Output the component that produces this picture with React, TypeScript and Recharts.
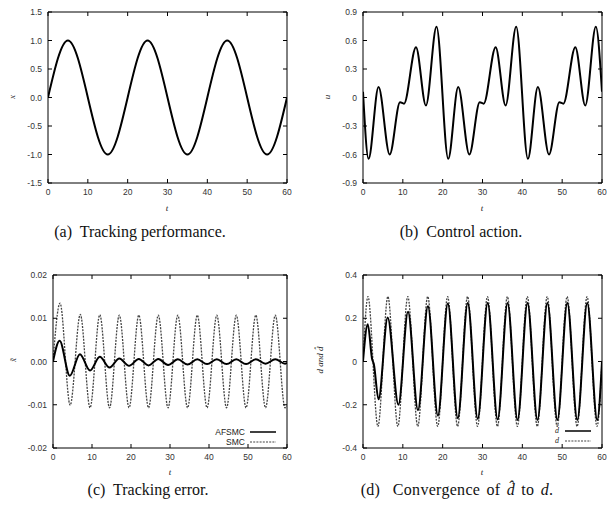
import React from 'react'
import { LineChart, Line, XAxis, YAxis } from 'recharts'

const SANS = '"Liberation Sans", Arial, Helvetica, sans-serif'
const SERIF = '"Liberation Serif", "Times New Roman", serif'

const T_TICKS = [0, 10, 20, 30, 40, 50, 60]

// (a) tracking performance, x(t) — extrema
const posT = [0, 5, 15, 25, 35, 45, 55, 60]
const posX = [0, 1, -1, 1, -1, 1, -1, 0]

// (b) control action u(t)
const ctrlT = [0, 1.4, 3.9, 6.7, 9.3, 10.3, 13.3, 15.8, 18.45, 21.4, 23.9, 26.7, 29.3, 30.3, 33.3, 35.8, 38.45, 41.4, 43.9, 46.7, 49.3, 50.3, 53.3, 55.8, 58.45, 60]
const ctrlU = [0.06, -0.645, 0.11, -0.6, -0.05, -0.065, 0.53, -0.085, 0.745, -0.645, 0.11, -0.6, -0.05, -0.065, 0.53, -0.085, 0.745, -0.645, 0.11, -0.6, -0.05, -0.065, 0.53, -0.085, 0.745, 0.06]

// (c) tracking error
const smcT = [0, 1.8, 4.4, 7.0, 9.5, 12.0, 14.5, 17.0, 19.5, 22.0, 24.5, 27.0, 29.5, 32.0, 34.5, 37.0, 39.5, 42.0, 44.5, 47.0, 49.5, 52.0, 54.5, 57.0, 59.5, 60]
const smcErr = [0, 0.0135, -0.0101, 0.0109, -0.0107, 0.0108, -0.0107, 0.0107, -0.0107, 0.0107, -0.0107, 0.0107, -0.0107, 0.0107, -0.0107, 0.0107, -0.0107, 0.0107, -0.0107, 0.0107, -0.0107, 0.0107, -0.0107, 0.0107, -0.0107, -0.0103]
const afT = [0, 1.7, 4.3, 6.9, 9.5, 12.0, 14.5, 17.0, 19.5, 22.0, 24.5, 27.0, 29.5, 32.0, 34.5, 37.0, 39.5, 42.0, 44.5, 47.0, 49.5, 52.0, 54.5, 57.0, 59.5, 60]
const afErr = [0, 0.0048, -0.0033, 0.0017, -0.0021, 0.0011, -0.0014, 0.0007, -0.001, 0.0006, -0.0009, 0.0006, -0.0008, 0.0005, -0.0007, 0.0005, -0.0006, 0.0005, -0.0006, 0.0005, -0.0006, 0.0005, -0.0005, 0.0005, -0.0005, -0.0003]

// (d) disturbance d and its estimate
const dT = [0, 1.25, 3.75, 6.25, 8.75, 11.25, 13.75, 16.25, 18.75, 21.25, 23.75, 26.25, 28.75, 31.25, 33.75, 36.25, 38.75, 41.25, 43.75, 46.25, 48.75, 51.25, 53.75, 56.25, 58.75, 60]
const dVal = [0, 0.3, -0.3, 0.3, -0.3, 0.3, -0.3, 0.3, -0.3, 0.3, -0.3, 0.3, -0.3, 0.3, -0.3, 0.3, -0.3, 0.3, -0.3, 0.3, -0.3, 0.3, -0.3, 0.3, -0.3, 0]
const dhT = [0, 1.2, 2.3, 2.7, 3.9, 6.2, 8.9, 11.3, 13.8, 16.3, 18.8, 21.3, 23.8, 26.3, 28.8, 31.3, 33.8, 36.3, 38.8, 41.3, 43.8, 46.3, 48.8, 51.3, 53.8, 56.3, 58.8, 60]
const dhVal = [0, 0.172, 0.01, -0.01, -0.175, 0.203, -0.2, 0.23, -0.225, 0.255, -0.25, 0.268, -0.262, 0.27, -0.265, 0.27, -0.268, 0.27, -0.27, 0.27, -0.27, 0.27, -0.27, 0.27, -0.27, 0.27, -0.27, 0]

type Curve = { t: number[]; v: number[]; dashed?: boolean }

const zip = (t: number[], v: number[]) => t.map((tt, i) => ({ t: tt, v: v[i] }))

const tickText = { fontSize: 8.5, fill: '#333', fontFamily: SANS }

function BottomTick(props: any) {
  const { x, y, payload } = props
  return (
    <g>
      <line x1={x} x2={x} y1={y} y2={y - 4} stroke="#000" />
      <text x={x} y={y + 12} textAnchor="middle" {...tickText}>{payload.value}</text>
    </g>
  )
}

function TopTick(props: any) {
  const { x, y } = props
  return <line x1={x} x2={x} y1={y} y2={y + 4} stroke="#000" />
}

function RightTick(props: any) {
  const { x, y } = props
  return <line x1={x} x2={x - 4} y1={y} y2={y} stroke="#000" />
}

function makeLeftTick(fmt: (v: number) => string) {
  return (props: any) => {
    const { x, y, payload } = props
    return (
      <g>
        <line x1={x} x2={x + 4} y1={y} y2={y} stroke="#000" />
        <text x={x - 6} y={y + 3} textAnchor="end" {...tickText}>{fmt(payload.value)}</text>
      </g>
    )
  }
}

type PanelProps = {
  left: number
  top: number
  w: number
  h: number
  margin: { top: number; right: number; bottom: number; left: number }
  yDomain: [number, number]
  yTicks: number[]
  yFmt: (v: number) => string
  curves: Curve[]
}

// axes are 1px thick so recharts still draws them; margins below already take that into account
function Panel(p: PanelProps) {
  const m = { top: p.margin.top - 1, right: p.margin.right - 1, bottom: p.margin.bottom - 1, left: p.margin.left - 1 }
  return (
    <div style={{ position: 'absolute', left: p.left, top: p.top }}>
      <LineChart width={p.w} height={p.h} margin={m}>
        <XAxis xAxisId="b" type="number" dataKey="t" domain={[0, 60]} ticks={T_TICKS} interval={0} height={1}
          tickLine={false} tickSize={0} tickMargin={0} axisLine={{ stroke: '#000' }} tick={BottomTick} allowDataOverflow />
        <XAxis xAxisId="top" orientation="top" type="number" dataKey="t" domain={[0, 60]} ticks={T_TICKS} interval={0} height={1}
          tickLine={false} tickSize={0} tickMargin={0} axisLine={{ stroke: '#000' }} tick={TopTick} allowDataOverflow />
        <YAxis yAxisId="l" type="number" domain={p.yDomain} ticks={p.yTicks} interval={0} width={1}
          tickLine={false} tickSize={0} tickMargin={0} axisLine={{ stroke: '#000' }} tick={makeLeftTick(p.yFmt)} allowDataOverflow />
        <YAxis yAxisId="r" orientation="right" type="number" domain={p.yDomain} ticks={p.yTicks} interval={0} width={1}
          tickLine={false} tickSize={0} tickMargin={0} axisLine={{ stroke: '#000' }} tick={RightTick} allowDataOverflow />
        {p.curves.map((c, i) => (
          <Line
            key={i}
            xAxisId="b"
            yAxisId="l"
            data={zip(c.t, c.v)}
            dataKey="v"
            type="monotone"
            dot={false}
            activeDot={false}
            isAnimationActive={false}
            stroke={c.dashed ? '#444' : '#000'}
            strokeWidth={c.dashed ? 1.3 : 2}
            strokeDasharray={c.dashed ? '2 1.2' : undefined}
          />
        ))}
      </LineChart>
    </div>
  )
}

function Label({ x, y, children, rotate, size = 9, italic = true, serif = true }: any) {
  return (
    <div
      style={{
        position: 'absolute',
        left: x,
        top: y,
        transform: `translate(-50%, -50%)${rotate ? ' rotate(-90deg)' : ''}`,
        fontFamily: serif ? SERIF : SANS,
        fontStyle: italic ? 'italic' : 'normal',
        fontSize: size,
        color: '#222',
        whiteSpace: 'nowrap',
        lineHeight: 1,
      }}
    >
      {children}
    </div>
  )
}

function Caption({ x, y, children, style }: any) {
  return (
    <div
      style={{
        position: 'absolute',
        left: x,
        top: y,
        transform: 'translate(-50%, -50%)',
        fontFamily: SERIF,
        fontSize: 16,
        color: '#111',
        whiteSpace: 'nowrap',
        lineHeight: 1,
        ...style,
      }}
    >
      {children}
    </div>
  )
}

function LegendRow({ textRight, y, x1, x2, text, dashed, italicSerif }: any) {
  return (
    <>
      <div
        style={{
          position: 'absolute',
          right: 607 - textRight,
          top: y,
          transform: 'translateY(-50%)',
          fontFamily: italicSerif ? SERIF : SANS,
          fontStyle: italicSerif ? 'italic' : 'normal',
          fontSize: italicSerif ? 8 : 8.5,
          color: '#222',
          lineHeight: 1,
          whiteSpace: 'nowrap',
        }}
      >
        {text}
      </div>
      <svg style={{ position: 'absolute', left: x1, top: y - 2 }} width={x2 - x1} height={4}>
        <line x1={0} x2={x2 - x1} y1={2} y2={2} stroke={dashed ? '#444' : '#000'} strokeWidth={dashed ? 1.2 : 1.5}
          strokeDasharray={dashed ? '2 1.2' : undefined} />
      </svg>
    </>
  )
}

const fmt1 = (v: number) => v.toFixed(1)
const fmt1z = (v: number) => (v === 0 ? '0' : v.toFixed(1))
const fmt2 = (v: number) => v.toFixed(2)

export default function App() {
  return (
    <div style={{ position: 'absolute', left: 0, top: 0, width: 607, height: 513, background: '#fff', overflow: 'hidden' }}>
      <Panel left={0} top={0} w={300} h={215} margin={{ top: 12, left: 48, right: 13, bottom: 32 }}
        yDomain={[-1.5, 1.5]} yTicks={[-1.5, -1, -0.5, 0, 0.5, 1, 1.5]} yFmt={fmt1}
        curves={[{ t: posT, v: posX }]} />
      <Panel left={300} top={0} w={307} h={215} margin={{ top: 12, left: 63, right: 5, bottom: 32 }}
        yDomain={[-0.9, 0.9]} yTicks={[-0.9, -0.6, -0.3, 0, 0.3, 0.6, 0.9]} yFmt={fmt1z}
        curves={[{ t: ctrlT, v: ctrlU }]} />
      <Panel left={0} top={260} w={300} h={215} margin={{ top: 15, left: 53, right: 13, bottom: 27 }}
        yDomain={[-0.02, 0.02]} yTicks={[-0.02, -0.01, 0, 0.01, 0.02]} yFmt={fmt2}
        curves={[{ t: smcT, v: smcErr, dashed: true }, { t: afT, v: afErr }]} />
      <Panel left={300} top={260} w={307} h={215} margin={{ top: 15, left: 63, right: 5, bottom: 27 }}
        yDomain={[-0.4, 0.4]} yTicks={[-0.4, -0.2, 0, 0.2, 0.4]} yFmt={fmt1z}
        curves={[{ t: dT, v: dVal, dashed: true }, { t: dhT, v: dhVal }]} />

      <Label x={12} y={97} rotate>x</Label>
      <Label x={167} y={208}>t</Label>
      <Label x={327} y={97} rotate>u</Label>
      <Label x={482} y={208}>t</Label>
      <Label x={13} y={360} rotate>x̃</Label>
      <Label x={170} y={472}>t</Label>
      <Label x={320} y={360} rotate>d and d̂</Label>
      <Label x={482} y={472}>t</Label>

      <LegendRow textRight={245} y={432} x1={250} x2={276} text="AFSMC" />
      <LegendRow textRight={245} y={441.5} x1={250} x2={276} text="SMC" dashed />
      <LegendRow textRight={559} y={431} x1={565} x2={591} text="d̂" italicSerif />
      <LegendRow textRight={559} y={441} x1={565} x2={591} text="d" dashed italicSerif />

      <Caption x={140} y={232}>(a)&nbsp; Tracking performance.</Caption>
      <Caption x={461} y={232}>(b)&nbsp; Control action.</Caption>
      <Caption x={148} y={490}>(c)&nbsp; Tracking error.</Caption>
      <Caption x={457} y={490} style={{ letterSpacing: 0.3, wordSpacing: 2 }}>(d)&nbsp; Convergence of <i>d̂</i> to <i>d</i>.</Caption>
    </div>
  )
}
